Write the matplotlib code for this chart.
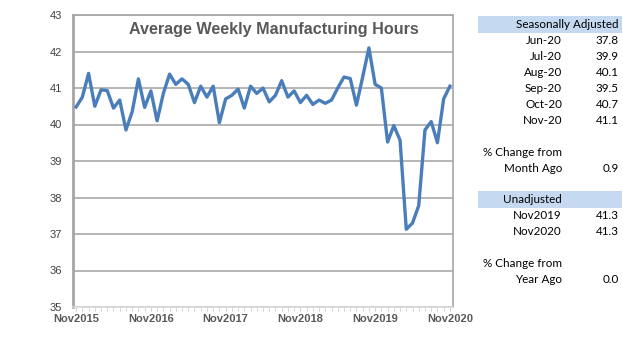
import matplotlib
matplotlib.use("Agg")
import matplotlib.pyplot as plt
from matplotlib.patches import Rectangle

# monthly average weekly hours, Nov 2015 .. Nov 2020 (61 points)
hours = [40.48, 40.75, 41.40, 40.50, 40.95, 40.93, 40.45, 40.67, 39.85, 40.35,
         41.25, 40.47, 40.92, 40.10, 40.85, 41.38, 41.10, 41.25, 41.10, 40.60,
         41.05, 40.75, 41.05, 40.05, 40.70, 40.80, 40.97, 40.45, 41.05, 40.85,
         41.00, 40.62, 40.80, 41.20, 40.75, 40.92, 40.60, 40.80, 40.55, 40.67,
         40.58, 40.67, 41.00, 41.30, 41.26, 40.53, 41.30, 42.10, 41.10, 41.00,
         39.52, 39.97, 39.57, 37.13, 37.30, 37.78, 39.85, 40.08, 39.50, 40.70,
         41.05]
year_labels = ["Nov2015", "Nov2016", "Nov2017", "Nov2018", "Nov2019", "Nov2020"]
y_ticks = [35, 36, 37, 38, 39, 40, 41, 42, 43]

sa_months = ["Jun-20", "Jul-20", "Aug-20", "Sep-20", "Oct-20", "Nov-20"]
sa_values = ["37.8", "39.9", "40.1", "39.5", "40.7", "41.1"]
month_change = "0.9"
unadj_labels = ["Nov2019", "Nov2020"]
unadj_values = ["41.3", "41.3"]
year_change = "0.0"

W, H = 623, 352
fig = plt.figure(figsize=(W / 100, H / 100), dpi=100)
ax = fig.add_axes([73 / W, 45 / H, 380 / W, 292 / H])

x = list(range(len(hours)))
ax.plot(x, hours, color="#4a7ebb", lw=2.4, solid_joinstyle="round", zorder=3)
ax.set_xlim(-0.5, len(hours) - 0.5)
ax.set_ylim(35, 43)
ax.set_yticks(y_ticks)
ax.set_yticklabels([str(v) for v in y_ticks], fontsize=8,
                   family="Liberation Sans", color="#404040")
ax.set_xticks(range(0, len(hours), 12))
ax.set_xticklabels(year_labels, fontsize=8, family="Liberation Sans",
                   fontweight="bold", color="#595959")
ax.set_xticks(range(len(hours)), minor=True)
ax.tick_params(axis="y", length=0, pad=8)
ax.tick_params(axis="x", which="both", length=3, color="#d0d0d0", pad=2)
ax.yaxis.grid(True, color="#b0b0b0", lw=1.3)
ax.set_axisbelow(True)
for s in ax.spines.values():
    s.set_color("#a6a6a6")
    s.set_linewidth(1.2)
ax.spines["left"].set_linewidth(2)
ax.spines["bottom"].set_color("#d9d9d9")

ax.text(0.529, 0.949, "Average Weekly Manufacturing Hours", transform=ax.transAxes,
        ha="center", va="center", fontsize=11.6, fontweight="bold",
        family="Liberation Sans", color="#595959")

# side table
def px(xp, yp):
    return xp / W, 1 - yp / H

tf = dict(family="Lato", fontsize=8.4, color="black", va="center")
lab_x, val_x = 562, 619
fig.patches.append(Rectangle(px(478, 33), 144 / W, 17 / H, transform=fig.transFigure,
                             facecolor="#c5d9f1", edgecolor="none"))
fig.text(*px(val_x, 24.5), "Seasonally Adjusted", ha="right", **tf)
for i, (m, v) in enumerate(zip(sa_months, sa_values)):
    yy = 40.5 + 16 * i
    fig.text(*px(lab_x, yy), m, ha="right", **tf)
    fig.text(*px(val_x, yy), v, ha="right", **tf)
fig.text(*px(lab_x, 152.5), "% Change from", ha="right", **tf)
fig.text(*px(lab_x, 168.5), "Month Ago", ha="right", **tf)
fig.text(*px(val_x, 168.5), month_change, ha="right", **tf)

fig.patches.append(Rectangle(px(478, 208), 144 / W, 17 / H, transform=fig.transFigure,
                             facecolor="#c5d9f1", edgecolor="none"))
fig.text(*px(lab_x, 199.5), "Unadjusted", ha="right", **tf)
for i, (m, v) in enumerate(zip(unadj_labels, unadj_values)):
    yy = 215.5 + 16 * i
    fig.text(*px(lab_x, yy), m, ha="right", **tf)
    fig.text(*px(val_x, yy), v, ha="right", **tf)
fig.text(*px(lab_x, 263.5), "% Change from", ha="right", **tf)
fig.text(*px(lab_x, 279.5), "Year Ago", ha="right", **tf)
fig.text(*px(val_x, 279.5), year_change, ha="right", **tf)

fig.savefig("out.png", dpi=100)
